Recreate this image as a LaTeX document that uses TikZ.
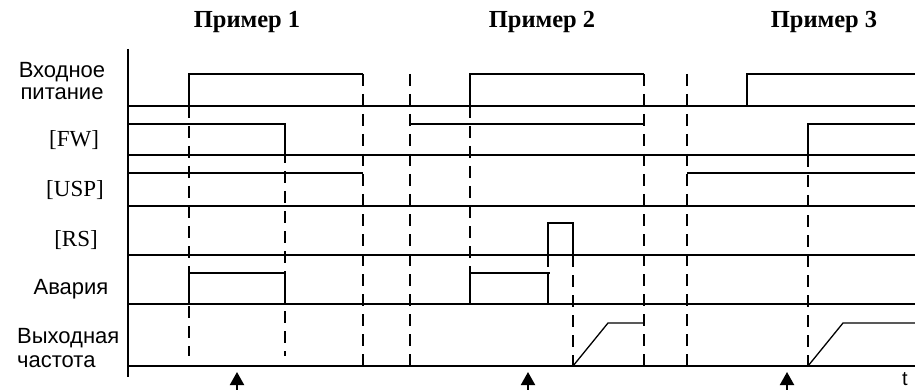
\documentclass[tikz,border=0pt]{standalone}
\usepackage{fontspec}
\setmainfont{Liberation Serif}
\newfontfamily\arialf{Liberation Sans}
\usetikzlibrary{arrows.meta}
\begin{document}
\begin{tikzpicture}[x=1pt,y=-1pt,
  sig/.style={line width=1.3pt},
  base/.style={line width=1.3pt},
  guide/.style={line width=1.8pt,dash pattern=on 12pt off 8pt},
  lblsans/.style={font=\arialf\fontsize{22}{22}\selectfont,inner sep=0pt},
  lblserif/.style={font=\fontsize{23}{24}\selectfont,inner sep=0pt},
  ttl/.style={font=\bfseries\fontsize{24.5}{26}\selectfont,inner sep=0pt},
  evarrow/.style={line width=2pt,-{Triangle[width=14pt,length=13pt]}}]
\useasboundingbox (0,0) rectangle (915,390);
% titles
\node[ttl] (t1) at (247,22) {Пример 1};
\node[ttl] (t2) at (542,22) {Пример 2};
\node[ttl] (t3) at (824,22) {Пример 3};
% labels
\node[lblsans,align=center] (lpow) at (62,81) {Входное\\питание};
\node[lblserif] (lfw) at (74,140) {[FW]};
\node[lblserif] (lusp) at (75,190) {[USP]};
\node[lblserif] (lrs) at (76,240) {[RS]};
\node[lblsans] (lal) at (71,289) {Авария};
\node[lblsans,align=left,anchor=west] (lout) at (17,348) {Выходная\\[2pt]частота};
\node[font=\arialf\fontsize{20}{20}\selectfont,inner sep=0pt] (lt) at (905,379) {t};
% axis
\draw[line width=2pt] (128,49) -- (128,377);
% baselines
\foreach \y in {106,155,206,255,304,366} \draw[base] (128,\y) -- (915,\y);
% power
\draw[sig] (189,106) -- (189,74) -- (363,74);
\draw[sig] (470,106) -- (470,74) -- (644,74);
\draw[sig] (747,106) -- (747,74) -- (915,74);
% FW
\draw[sig] (128,124) -- (285,124) -- (285,155);
\draw[sig] (410,124) -- (644,124);
\draw[sig] (808,155) -- (808,124) -- (915,124);
% USP
\draw[sig] (128,173) -- (363,173);
\draw[sig] (687,173) -- (915,173);
% RS
\draw[sig] (548,255) -- (548,223) -- (573,223) -- (573,255);
% alarm
\draw[sig] (189,304) -- (189,273) -- (285,273) -- (285,304);
\draw[sig] (470,304) -- (470,273) -- (550,273);
\draw[sig] (548,273) -- (548,304);
% output
\draw[sig] (573,366) -- (608,323) -- (644,323);
\draw[sig] (808,366) -- (843,323) -- (915,323);
% dashed guides
\draw[guide] (189,106) -- (189,356);
\draw[guide,dash phase=4pt] (285,155) -- (285,356);
\draw[guide] (363,74) -- (363,366);
\draw[guide] (410,74) -- (410,366);
\draw[guide] (470,106) -- (470,273);
\draw[guide] (548,255) -- (548,273);
\draw[guide] (573,255) -- (573,366);
\draw[guide] (644,74) -- (644,366);
\draw[guide] (687,74) -- (687,366);
\draw[guide] (808,155) -- (808,366);
% event arrows
\coordinate (a1) at (237,390); \coordinate (a1t) at (237,372);
\coordinate (a2) at (528,390); \coordinate (a2t) at (528,372);
\coordinate (a3) at (787,390); \coordinate (a3t) at (787,372);
\draw[evarrow] (a1) -- (a1t);
\draw[evarrow] (a2) -- (a2t);
\draw[evarrow] (a3) -- (a3t);
\end{tikzpicture}
\end{document}
